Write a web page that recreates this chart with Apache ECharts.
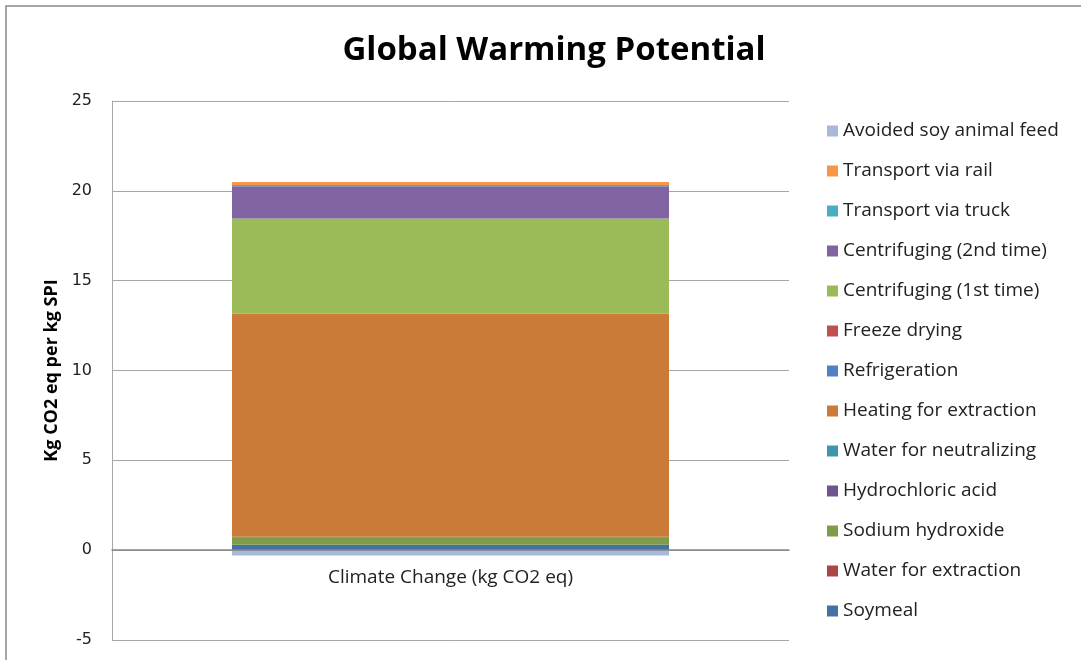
<!DOCTYPE html>
<html>
<head>
<meta charset="utf-8">
<script src="https://cdn.jsdelivr.net/npm/echarts@6/dist/echarts.min.js"></script>
<style>html,body{margin:0;padding:0;background:#fff;}#c{width:1081px;height:660px;}</style>
</head>
<body>
<div id="c"></div>
<script>
const categories = ['Climate Change (kg CO2 eq)'];
const seriesNames = ['Soymeal','Water for extraction','Sodium hydroxide','Hydrochloric acid','Water for neutralizing','Heating for extraction','Refrigeration','Freeze drying','Centrifuging (1st time)','Centrifuging (2nd time)','Transport via truck','Transport via rail','Avoided soy animal feed'];
const seriesValues = [0.30, 0.005, 0.41, 0.02, 0.005, 12.40, 0.01, 0.005, 5.30, 1.80, 0.07, 0.17, -0.29];
const seriesColors = ['#4470A6','#AA4643','#7F9C4A','#6E5590','#3F95AC','#CC7A38','#4F81C4','#C0504D','#9BBB59','#8064A2','#4BACC6','#F79646','#A9B8D8'];
const yTicks = {min: -5, max: 25, interval: 5};

const chart = echarts.init(document.getElementById('c'), null, {renderer: 'canvas'});
const series = seriesNames.map((n, i) => ({
  name: n,
  type: 'bar',
  stack: 'total',
  barWidth: 437,
  itemStyle: {color: seriesColors[i]},
  data: [seriesValues[i]]
}));
chart.setOption({
  animation: false,
  backgroundColor: '#fff',
  title: {
    text: 'Global Warming Potential',
    left: 549, top: 29, textAlign: 'center',
    textStyle: {fontFamily: 'Open Sans', fontWeight: 'bold', fontSize: 33, color: '#000'}
  },
  graphic: [{
    type: 'rect', shape: {x: 6, y: 6, width: 1090, height: 670},
    style: {fill: 'none', stroke: '#898989', lineWidth: 1.5}, silent: true
  }],
  legend: {
    orient: 'vertical', left: 822, top: 115,
    itemWidth: 11, itemHeight: 11, itemGap: 18,
    icon: 'rect',
    data: seriesNames.slice().reverse(),
    textStyle: {fontFamily: 'Open Sans', fontSize: 19, lineHeight: 22, color: '#222', padding: [0,0,0,0]}
  },
  grid: {left: 112, right: 292, top: 101, bottom: 20, containLabel: false, outerBoundsMode: 'none'},
  xAxis: {
    type: 'category', data: categories, z: 5,
    axisLine: {onZero: true, lineStyle: {color: '#868686', width: 1.5}},
    axisTick: {show: false},
    axisLabel: {fontFamily: 'Open Sans', fontSize: 19, color: '#222', margin: -72}
  },
  yAxis: {
    type: 'value', min: yTicks.min, max: yTicks.max, interval: yTicks.interval,
    name: 'Kg CO2 eq per kg SPI', nameLocation: 'middle', nameGap: 51, nameRotate: 90,
    nameTextStyle: {fontFamily: 'Open Sans', fontWeight: 'bold', fontSize: 18, color: '#000'},
    axisLine: {show: true, lineStyle: {color: '#a6a6a6'}},
    axisTick: {show: false},
    splitLine: {lineStyle: {color: '#a6a6a6'}},
    axisLabel: {fontFamily: 'DejaVu Sans', fontSize: 16, color: '#222', margin: 20}
  },
  series: series
});
</script>
</body>
</html>
